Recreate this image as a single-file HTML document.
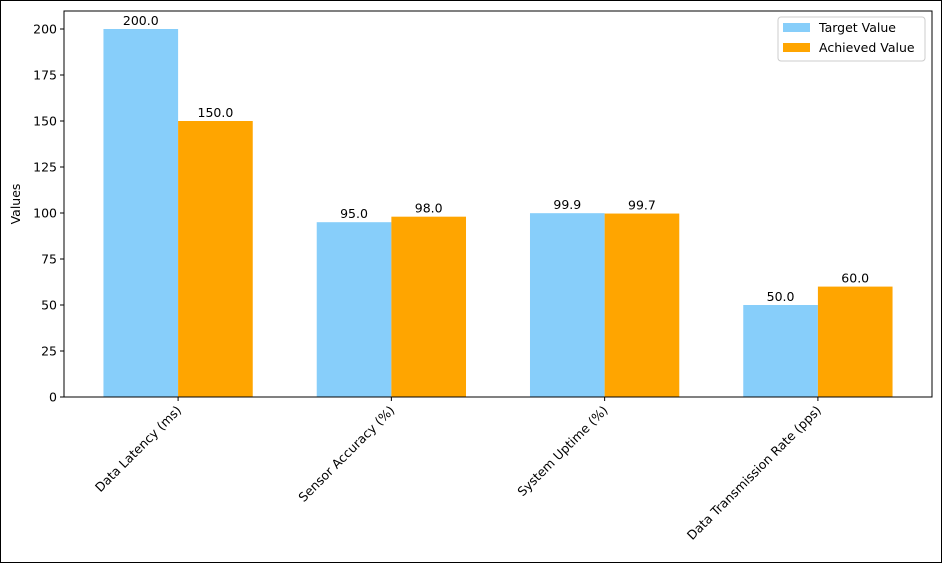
<!DOCTYPE html>
<html><head><meta charset="utf-8"><style>
body{margin:0;background:#fff}
svg{display:block;font-family:"DejaVu Sans","Liberation Sans",sans-serif}
</style></head><body>
<svg id="c" width="942" height="563" xmlns="http://www.w3.org/2000/svg">
<rect x="0.5" y="0.5" width="941" height="562" fill="#fff" stroke="#000"/>
</svg>
<script>
const categories=["Data Latency (ms)","Sensor Accuracy (%)","System Uptime (%)","Data Transmission Rate (pps)"];
const targetValues=[200,95,99.9,50];
const achievedValues=[150,98,99.7,60];
const yTicks=[0,25,50,75,100,125,150,175,200];
const NS="http://www.w3.org/2000/svg";
const svg=document.getElementById('c');
const L=64,R=932,T=11,B=397;
const xmin=-0.535,xmax=3.535,bw=0.35;
const x=v=>L+(v-xmin)/(xmax-xmin)*(R-L);
const y=v=>B-v*1.84;
function el(t,a,txt){const e=document.createElementNS(NS,t);for(const k in a)e.setAttribute(k,a[k]);if(txt!=null)e.textContent=txt;svg.appendChild(e);return e;}
// bars
categories.forEach((c,i)=>{
  const b1=el('rect',{x:x(i-bw),y:y(targetValues[i]),width:x(i)-x(i-bw),height:B-y(targetValues[i]),fill:'#87cefa'});
  
  
  const b2=el('rect',{x:x(i),y:y(achievedValues[i]),width:x(i+bw)-x(i),height:B-y(achievedValues[i]),fill:'#ffa500'});
  
  
  const l1=el('text',{x:x(i-bw/2),y:y(targetValues[i])-4,'text-anchor':'middle','font-size':12.5},targetValues[i].toFixed(1));
  
  
  const l2=el('text',{x:x(i+bw/2),y:y(achievedValues[i])-4,'text-anchor':'middle','font-size':12.5},achievedValues[i].toFixed(1));
  
  
  el('line',{x1:x(i),x2:x(i),y1:B,y2:B+4,stroke:'#000'});
  const t=el('text',{x:x(i)+4,y:B+14,'text-anchor':'end','font-size':12.5,transform:`rotate(-45 ${x(i)+4} ${B+14})`},c);
  
  
});
yTicks.forEach(v=>{
  el('line',{x1:L-4,x2:L,y1:y(v),y2:y(v),stroke:'#000'});
  const t=el('text',{x:L-7,y:y(v)+4.5,'text-anchor':'end','font-size':12.5},v);
  
  
});
const frame=el('rect',{x:L,y:T,width:R-L,height:B-T,fill:'none',stroke:'#000'});


const yt=el('text',{x:20,y:(T+B)/2,'text-anchor':'middle','font-size':12.5,transform:`rotate(-90 20 ${(T+B)/2})`},'Values');


// legend
const lg=el('rect',{x:778,y:17,width:147,height:44,rx:3,fill:'#fff',stroke:'#ccc'});


el('rect',{x:783,y:23,width:27,height:9,fill:'#87cefa'});
const e1=el('text',{x:819,y:32,'font-size':12.5},'Target Value');


el('rect',{x:783,y:43,width:27,height:9,fill:'#ffa500'});
const e2=el('text',{x:819,y:52,'font-size':12.5},'Achieved Value');


</script>
</body></html>
